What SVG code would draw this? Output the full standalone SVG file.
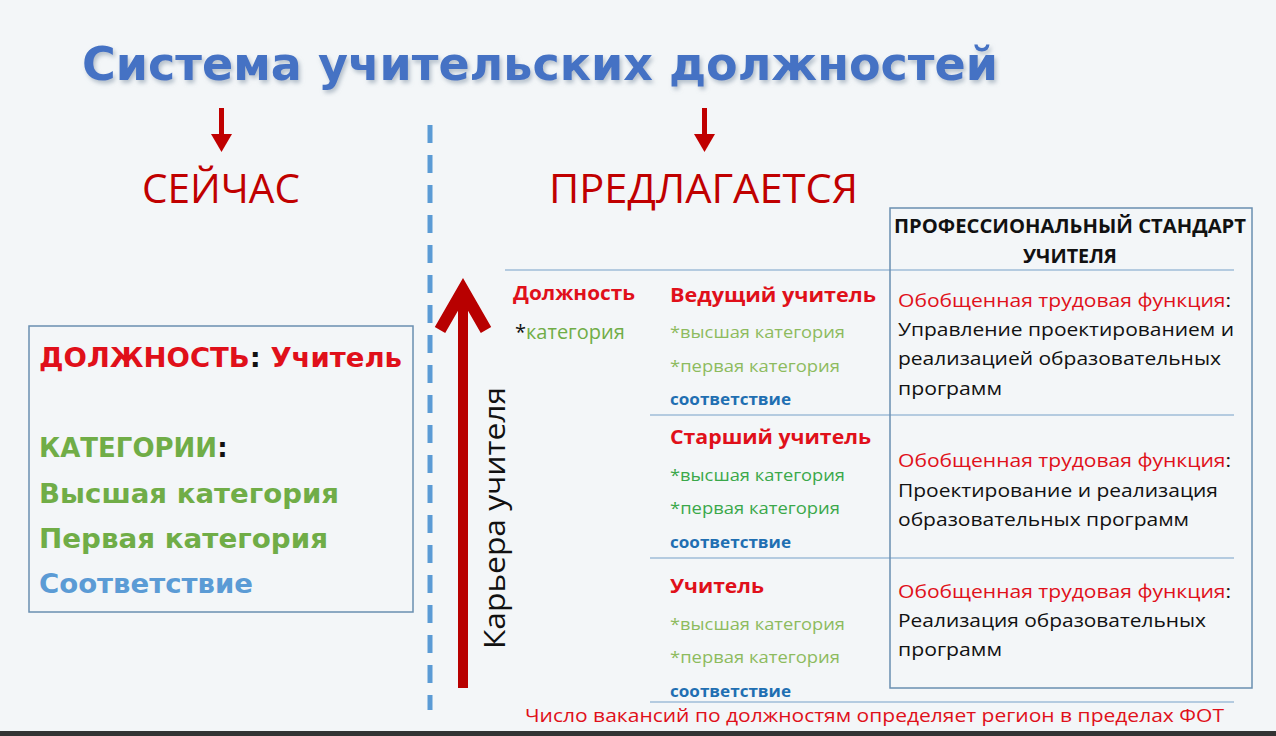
<svg xmlns="http://www.w3.org/2000/svg" width="1276" height="736" viewBox="0 0 1276 736">
<defs>
<style>
text{font-family:"Open Sans","Liberation Sans",sans-serif}
.v{font-family:"DejaVu Sans","Liberation Sans",sans-serif;font-weight:bold}
.red{fill:#e0101a}.dred{fill:#c00000}.grn{fill:#70ad47}.lg{fill:#8dbb5e}.dg{fill:#3aa84a}.blu{fill:#1f6fb2}.lb{fill:#5b9bd5}.blk{fill:#111}
.sm{font-size:17px}.hd{font-size:20px;font-weight:bold}.cs{font-size:16px;font-weight:bold}.fn{font-size:19px}
.ln{stroke:#b4cbe0;stroke-width:2}
</style>
<filter id="sh"><feDropShadow dx="2" dy="3" stdDeviation="2" flood-color="#8899aa" flood-opacity="0.6"/></filter>
</defs>
<rect width="1276" height="736" fill="#f3f6f8"/>
<rect y="731" width="1276" height="5" fill="#333"/>
<text class="v" x="82" y="80" font-size="46" fill="#4472c4" filter="url(#sh)" textLength="916" lengthAdjust="spacingAndGlyphs">Система учительских должностей</text>
<g id="arrows-top" fill="#c00000">
<rect x="219" y="108" width="5" height="28"/><path d="M211 134h21l-10.5 18z"/>
<rect x="702" y="108" width="5" height="28"/><path d="M694 134h21l-10.5 18z"/>
</g>
<text x="142" y="203" font-size="40" class="dred" textLength="158" lengthAdjust="spacingAndGlyphs">СЕЙЧАС</text>
<text x="549" y="203" font-size="40" class="dred" textLength="309" lengthAdjust="spacingAndGlyphs">ПРЕДЛАГАЕТСЯ</text>
<line x1="430" y1="125" x2="430" y2="710" stroke="#5b9bd5" stroke-width="5" stroke-dasharray="18 12"/>
<g id="career">
<rect x="458" y="300" width="10" height="388" fill="#b80000"/>
<path d="M440 330 L463 290 L486 330" fill="none" stroke="#b80000" stroke-width="12" stroke-linejoin="miter"/>
<text transform="translate(505 518) rotate(-90)" text-anchor="middle" font-size="30" class="blk" textLength="262" lengthAdjust="spacingAndGlyphs">Карьера учителя</text>
</g>
<g id="now">
<rect x="29" y="326" width="384" height="286" fill="none" stroke="#6a8fb0" stroke-width="1.5"/>
<text class="v" x="39" y="367" font-size="26" textLength="363" lengthAdjust="spacingAndGlyphs"><tspan class="red">ДОЛЖНОСТЬ</tspan><tspan class="blk">: </tspan><tspan class="red">Учитель</tspan></text>
<text class="v" x="39" y="457" font-size="26"><tspan class="grn">КАТЕГОРИИ</tspan><tspan class="blk">:</tspan></text>
<text class="v grn" x="39" y="503" font-size="26" textLength="300" lengthAdjust="spacingAndGlyphs">Высшая категория</text>
<text class="v grn" x="39" y="548" font-size="26" textLength="289" lengthAdjust="spacingAndGlyphs">Первая категория</text>
<text class="v lb" x="39" y="593" font-size="26" textLength="214" lengthAdjust="spacingAndGlyphs">Соответствие</text>
</g>
<g id="connectors">
<line class="ln" x1="505" y1="270" x2="1234" y2="270"/>
<line class="ln" x1="650" y1="415" x2="1234" y2="415"/>
<line class="ln" x1="650" y1="558" x2="1234" y2="558"/>
<line class="ln" x1="650" y1="702" x2="1234" y2="702"/>
</g>
<g id="standard">
<rect x="890" y="208" width="362" height="480" fill="none" stroke="#6a8fb0" stroke-width="1.5"/>
<text x="1070" y="233" text-anchor="middle" font-size="20" font-weight="bold" class="blk" textLength="352" lengthAdjust="spacingAndGlyphs">ПРОФЕССИОНАЛЬНЫЙ СТАНДАРТ</text>
<text x="1070" y="263" text-anchor="middle" font-size="20" font-weight="bold" class="blk" textLength="94" lengthAdjust="spacingAndGlyphs">УЧИТЕЛЯ</text>
</g>
<g id="legend">
<text x="513" y="300" class="red" font-size="19" font-weight="bold" textLength="122" lengthAdjust="spacingAndGlyphs">Должность</text>
<text x="515" y="339" font-size="20"><tspan class="blk">*</tspan><tspan class="grn">категория</tspan></text>
</g>
<g id="lead">
<text x="670" y="302" class="red hd" textLength="206" lengthAdjust="spacingAndGlyphs">Ведущий учитель</text>
<text x="670" y="338" class="sm lg" textLength="175" lengthAdjust="spacingAndGlyphs">*высшая категория</text>
<text x="670" y="372" class="sm lg" textLength="170" lengthAdjust="spacingAndGlyphs">*первая категория</text>
<text x="670" y="405" class="cs blu" textLength="121" lengthAdjust="spacingAndGlyphs">соответствие</text>
<text x="898" y="307" class="fn" textLength="333" lengthAdjust="spacingAndGlyphs"><tspan class="red">Обобщенная трудовая функция</tspan><tspan class="blk">:</tspan></text>
<text x="898" y="336" class="fn blk" textLength="336" lengthAdjust="spacingAndGlyphs">Управление проектированием и</text>
<text x="898" y="365" class="fn blk" textLength="323" lengthAdjust="spacingAndGlyphs">реализацией образовательных</text>
<text x="898" y="395" class="fn blk" textLength="104" lengthAdjust="spacingAndGlyphs">программ</text>
</g>
<g id="senior">
<text x="670" y="444" class="red hd" textLength="201" lengthAdjust="spacingAndGlyphs">Старший учитель</text>
<text x="670" y="481" class="sm dg" textLength="175" lengthAdjust="spacingAndGlyphs">*высшая категория</text>
<text x="670" y="514" class="sm dg" textLength="170" lengthAdjust="spacingAndGlyphs">*первая категория</text>
<text x="670" y="548" class="cs blu" textLength="121" lengthAdjust="spacingAndGlyphs">соответствие</text>
<text x="898" y="467" class="fn" textLength="333" lengthAdjust="spacingAndGlyphs"><tspan class="red">Обобщенная трудовая функция</tspan><tspan class="blk">:</tspan></text>
<text x="898" y="497" class="fn blk" textLength="320" lengthAdjust="spacingAndGlyphs">Проектирование и реализация</text>
<text x="898" y="526" class="fn blk" textLength="291" lengthAdjust="spacingAndGlyphs">образовательных программ</text>
</g>
<g id="teacher">
<text x="670" y="593" class="red hd" textLength="94" lengthAdjust="spacingAndGlyphs">Учитель</text>
<text x="670" y="630" class="sm lg" textLength="175" lengthAdjust="spacingAndGlyphs">*высшая категория</text>
<text x="670" y="663" class="sm lg" textLength="170" lengthAdjust="spacingAndGlyphs">*первая категория</text>
<text x="670" y="697" class="cs blu" textLength="121" lengthAdjust="spacingAndGlyphs">соответствие</text>
<text x="898" y="598" class="fn" textLength="333" lengthAdjust="spacingAndGlyphs"><tspan class="red">Обобщенная трудовая функция</tspan><tspan class="blk">:</tspan></text>
<text x="898" y="627" class="fn blk" textLength="308" lengthAdjust="spacingAndGlyphs">Реализация образовательных</text>
<text x="898" y="656" class="fn blk" textLength="104" lengthAdjust="spacingAndGlyphs">программ</text>
</g>
<text x="525" y="722" font-size="19" class="red" textLength="699" lengthAdjust="spacingAndGlyphs">Число вакансий по должностям определяет регион в пределах ФОТ</text>
</svg>
